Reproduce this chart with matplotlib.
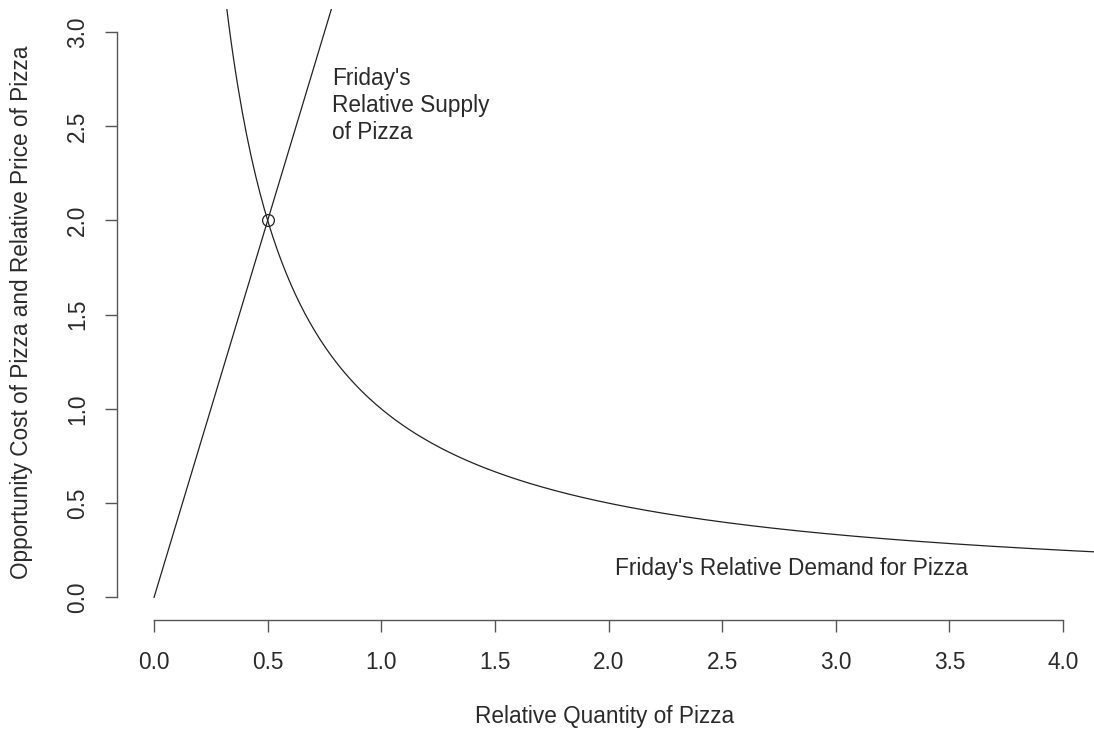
import matplotlib.pyplot as plt
import numpy as np

plt.rcParams['font.family'] = ['Liberation Sans', 'DejaVu Sans']

# datos: oferta relativa y = 4x, demanda relativa y = 1/x
pendiente_oferta = 4.0
x_ticks = [0.0, 0.5, 1.0, 1.5, 2.0, 2.5, 3.0, 3.5, 4.0]
y_ticks = [0.0, 0.5, 1.0, 1.5, 2.0, 2.5, 3.0]
equilibrio_x = [0.5]
equilibrio_y = [2.0]

x_oferta = np.array([0.0, 0.8])
y_oferta = pendiente_oferta * x_oferta
x_demanda = np.linspace(0.3, 4.2, 400)
y_demanda = 1 / x_demanda

W, H = 1094, 732
fs = 16.3
fig = plt.figure(figsize=(W / 100, H / 100), dpi=100)
ax = fig.add_axes([117 / W, 112 / H, (W - 117) / W, (620 - 9.4) / H])

ax.plot(x_oferta, y_oferta, color="#222222", lw=0.9)
ax.plot(x_demanda, y_demanda, color="#222222", lw=0.9)
ax.plot(equilibrio_x, equilibrio_y, 'o', mfc="none", mec="#222222", ms=8.5, mew=0.9)

ax.set_xlim(-0.163, 4.136)
ax.set_ylim(-0.12, 3.12)

for lado in ["top", "right"]:
    ax.spines[lado].set_visible(False)
ax.spines["bottom"].set_bounds(0, 4)
ax.spines["left"].set_bounds(0, 3)
for lado in ["bottom", "left"]:
    ax.spines[lado].set_color("#555555")
    ax.spines[lado].set_linewidth(1.0)

ax.set_xticks(x_ticks)
ax.set_yticks(y_ticks)
ax.set_xticklabels(["%.1f" % v for v in x_ticks])
ax.set_yticklabels(["%.1f" % v for v in y_ticks], rotation=90, va="center")
ax.tick_params(axis="both", length=8.8, width=1.0, color="#555555", labelsize=fs,
               labelcolor="#2a2a2a")
ax.tick_params(axis="x", pad=13.5)
ax.tick_params(axis="y", pad=11.5)

ax.text(0.783, 2.61, "Friday's\nRelative Supply\nof Pizza", fontsize=fs,
        ha="left", va="center", linespacing=1.22, color="#2a2a2a")
ax.text(2.03, 0.154, "Friday's Relative Demand for Pizza", fontsize=fs,
        ha="left", va="center", color="#2a2a2a")

fig.text(605 / W, 1 - 717 / H, "Relative Quantity of Pizza", fontsize=fs,
         ha="center", va="center", color="#2a2a2a")
fig.text(22 / W, 1 - 312 / H, "Opportunity Cost of Pizza and Relative Price of Pizza",
         fontsize=fs, ha="center", va="center", rotation=90, color="#2a2a2a")

fig.savefig("out.png", dpi=100)
